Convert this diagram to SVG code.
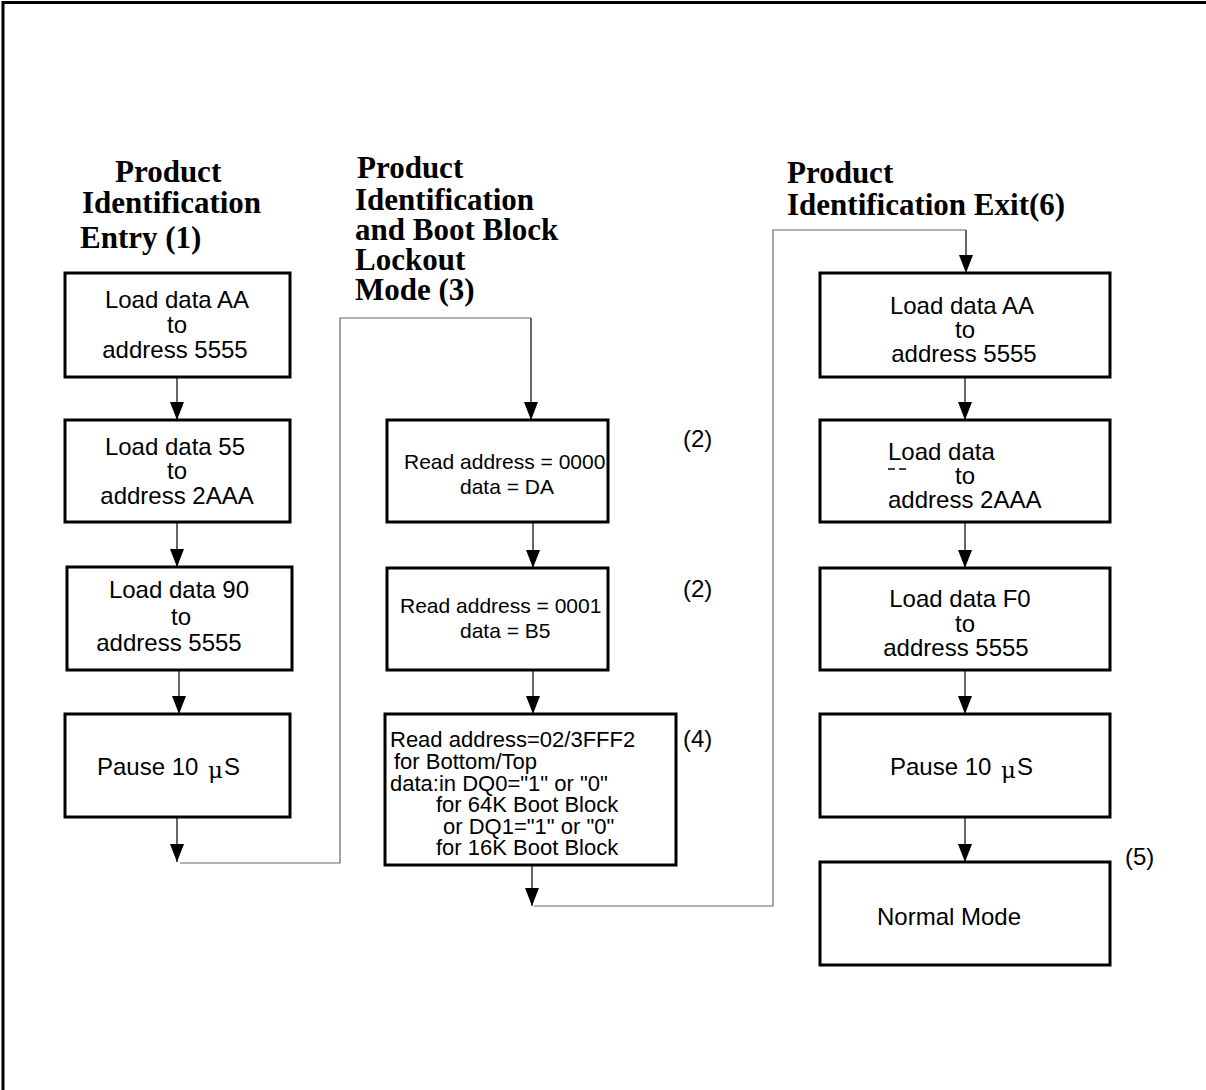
<svg xmlns="http://www.w3.org/2000/svg" width="1206" height="1090" viewBox="0 0 1206 1090">
<style>
.box{fill:#fff;stroke:#000;stroke-width:3}
.t{font-family:"Liberation Sans",Arial,sans-serif;font-size:24px;fill:#000}
.s{font-size:21px}
.m{font-size:22px}
.c{text-anchor:middle}
.h{font-family:"Liberation Serif","Times New Roman",serif;font-size:31px;font-weight:bold;fill:#000}
.ln{stroke:#000;stroke-width:1.2;fill:none}
.rt{stroke:#666;stroke-width:1.2;fill:none}
.mu{font-family:"DejaVu Serif",serif;font-size:23px}
</style>
<defs>
<marker id="ah" markerWidth="18" markerHeight="14" refX="18" refY="7" orient="auto" markerUnits="userSpaceOnUse" viewBox="0 0 18 14">
<path d="M0,0 L18,7 L0,14 Z" fill="#000"/>
</marker>
</defs>
<rect width="1206" height="1090" fill="#fff"/>
<path d="M3,1090 L3,2.5 L1206,2.5" fill="none" stroke="#000" stroke-width="3"/>

<g id="titles">
<text class="h" x="115" y="182">Product</text>
<text class="h" x="82" y="213">Identification</text>
<text class="h" x="80" y="248">Entry (1)</text>
<text class="h" x="357" y="178">Product</text>
<text class="h" x="355" y="210">Identification</text>
<text class="h" x="355" y="240">and Boot Block</text>
<text class="h" x="355" y="270">Lockout</text>
<text class="h" x="355" y="300">Mode (3)</text>
<text class="h" x="787" y="183">Product</text>
<text class="h" x="787" y="215">Identification Exit(6)</text>
</g>

<g id="connectors">
<line class="ln" x1="177" y1="377" x2="177" y2="420" marker-end="url(#ah)"/>
<line class="ln" x1="177" y1="522" x2="177" y2="567" marker-end="url(#ah)"/>
<line class="ln" x1="179" y1="670" x2="179" y2="714" marker-end="url(#ah)"/>
<line class="ln" x1="177" y1="817" x2="177" y2="862" marker-end="url(#ah)"/>
<path class="rt" d="M180,863 L340,863 L340,318 L531,318"/>
<line class="ln" x1="531" y1="318" x2="531" y2="420" marker-end="url(#ah)"/>
<line class="ln" x1="533" y1="522" x2="533" y2="568" marker-end="url(#ah)"/>
<line class="ln" x1="533" y1="670" x2="533" y2="714" marker-end="url(#ah)"/>
<line class="ln" x1="532" y1="865" x2="532" y2="906" marker-end="url(#ah)"/>
<path class="rt" d="M534,906 L773,906 L773,230 L966,230"/>
<line class="ln" x1="966" y1="230" x2="966" y2="273" marker-end="url(#ah)"/>
<line class="ln" x1="965" y1="377" x2="965" y2="420" marker-end="url(#ah)"/>
<line class="ln" x1="965" y1="522" x2="965" y2="568" marker-end="url(#ah)"/>
<line class="ln" x1="965" y1="670" x2="965" y2="714" marker-end="url(#ah)"/>
<line class="ln" x1="965" y1="817" x2="965" y2="862" marker-end="url(#ah)"/>
</g>

<g id="n1">
<rect class="box" x="65" y="273" width="225" height="104"/>
<text class="t c" x="177" y="308">Load data AA</text>
<text class="t c" x="177" y="333">to</text>
<text class="t c" x="175" y="358">address 5555</text>
</g>
<g id="n2">
<rect class="box" x="65" y="420" width="225" height="102"/>
<text class="t c" x="175" y="455">Load data 55</text>
<text class="t c" x="177" y="479">to</text>
<text class="t c" x="177" y="504">address 2AAA</text>
</g>
<g id="n3">
<rect class="box" x="67" y="567" width="225" height="103"/>
<text class="t c" x="179" y="598">Load data 90</text>
<text class="t c" x="181" y="625">to</text>
<text class="t c" x="169" y="651">address 5555</text>
</g>
<g id="n4">
<rect class="box" x="65" y="714" width="225" height="103"/>
<text class="t" x="97" y="775">Pause 10</text>
<text class="t" x="208" y="778"><tspan class="mu">μ</tspan></text>
<text class="t" x="224" y="775">S</text>
</g>

<g id="n5">
<rect class="box" x="387" y="420" width="221" height="102"/>
<text class="t s" x="404" y="469">Read address = 0000</text>
<text class="t s" x="460" y="494">data = DA</text>
</g>
<text class="t" x="683" y="447">(2)</text>
<g id="n6">
<rect class="box" x="387" y="568" width="221" height="102"/>
<text class="t s" x="400" y="613">Read address = 0001</text>
<text class="t s" x="460" y="638">data = B5</text>
</g>
<text class="t" x="683" y="597">(2)</text>
<g id="n7">
<rect class="box" x="385" y="714" width="291" height="151"/>
<text class="t m" x="390" y="747">Read address=02/3FFF2</text>
<text class="t m" x="394" y="769">for Bottom/Top</text>
<text class="t m" x="390" y="791">data:in DQ0="1" or "0"</text>
<text class="t m" x="436" y="812">for 64K Boot Block</text>
<text class="t m" x="443" y="834">or DQ1="1" or "0"</text>
<text class="t m" x="436" y="855">for 16K Boot Block</text>
</g>
<text class="t" x="683" y="747">(4)</text>

<g id="n8">
<rect class="box" x="820" y="273" width="290" height="104"/>
<text class="t c" x="962" y="314">Load data AA</text>
<text class="t c" x="965" y="338">to</text>
<text class="t c" x="964" y="362">address 5555</text>
</g>
<g id="n9">
<rect class="box" x="820" y="420" width="290" height="102"/>
<text class="t" x="888" y="460">Load data</text>
<line x1="888" y1="469" x2="895" y2="469" stroke="#000" stroke-width="1.5"/>
<line x1="899" y1="469" x2="906" y2="469" stroke="#000" stroke-width="1.5"/>
<text class="t c" x="965" y="484">to</text>
<text class="t" x="888" y="508">address 2AAA</text>
</g>
<g id="n10">
<rect class="box" x="820" y="568" width="290" height="102"/>
<text class="t c" x="960" y="607">Load data F0</text>
<text class="t c" x="965" y="632">to</text>
<text class="t c" x="956" y="656">address 5555</text>
</g>
<g id="n11">
<rect class="box" x="820" y="714" width="290" height="103"/>
<text class="t" x="890" y="775">Pause 10</text>
<text class="t" x="1001" y="778"><tspan class="mu">μ</tspan></text>
<text class="t" x="1017" y="775">S</text>
</g>
<g id="n12">
<rect class="box" x="820" y="862" width="290" height="103"/>
<text class="t" x="877" y="925">Normal Mode</text>
</g>
<text class="t" x="1125" y="865">(5)</text>
</svg>
